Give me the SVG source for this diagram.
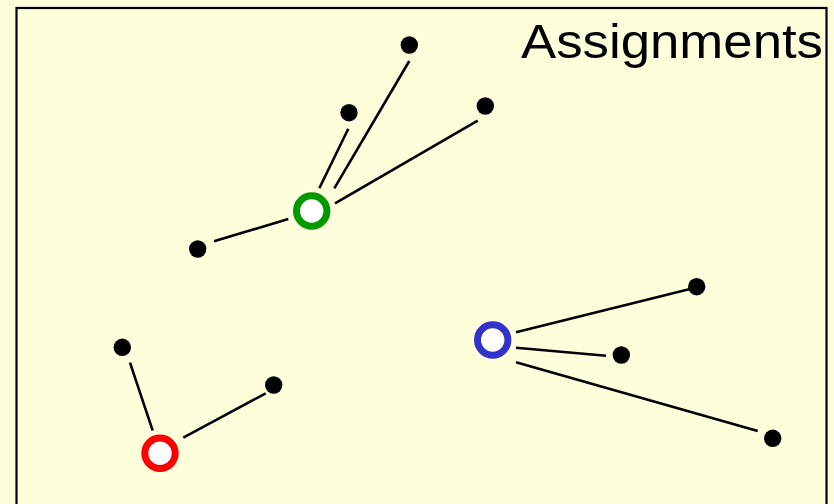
<svg xmlns="http://www.w3.org/2000/svg" width="834" height="504" viewBox="0 0 834 504">
<style>
.bg{fill:#ffffdc}
.frame{fill:#ffffdc;stroke:#000;stroke-width:2.2}
.dot{fill:#000}
.ring{fill:#ffffff;stroke-width:7}
.link{stroke:#000;stroke-width:2.6;stroke-linecap:butt;fill:none}
.title{font-family:"Liberation Sans",Arial,sans-serif;font-size:48px;fill:#000}
</style>
<rect class="bg" x="0" y="0" width="834" height="504"/>
<rect class="frame" x="16.5" y="8" width="810" height="520"/>
<text class="title" x="521" y="57.5" textLength="302" lengthAdjust="spacingAndGlyphs">Assignments</text>
<g id="connectors">
<line class="link" x1="334.3" y1="188.3" x2="409.3" y2="61"/>
<line class="link" x1="319.3" y1="188.3" x2="348.3" y2="128.7"/>
<line class="link" x1="335" y1="203.3" x2="477.7" y2="120.7"/>
<line class="link" x1="288.3" y1="219" x2="214" y2="241.3"/>
<line class="link" x1="130" y1="362.7" x2="152.7" y2="430.7"/>
<line class="link" x1="183.3" y1="437.7" x2="265.7" y2="393.3"/>
<line class="link" x1="516" y1="332.3" x2="690" y2="289"/>
<line class="link" x1="516" y1="347.7" x2="606" y2="355.7"/>
<line class="link" x1="516" y1="362.3" x2="757.7" y2="431"/>
</g>
<g id="center-green"><circle class="ring" cx="311.7" cy="211" r="15.2" stroke="#009900"/></g>
<g id="center-red"><circle class="ring" cx="160" cy="453.3" r="15.2" stroke="#ff0000"/></g>
<g id="center-blue"><circle class="ring" cx="492.7" cy="340" r="15.2" stroke="#3333cc"/></g>
<g id="p1"><circle class="dot" cx="409.3" cy="45" r="8.7"/></g>
<g id="p2"><circle class="dot" cx="349" cy="112.7" r="8.7"/></g>
<g id="p3"><circle class="dot" cx="485.3" cy="106" r="8.7"/></g>
<g id="p4"><circle class="dot" cx="197.7" cy="249" r="8.7"/></g>
<g id="p5"><circle class="dot" cx="122.3" cy="347.3" r="8.7"/></g>
<g id="p6"><circle class="dot" cx="273.7" cy="385" r="8.7"/></g>
<g id="p7"><circle class="dot" cx="696.7" cy="286.7" r="8.7"/></g>
<g id="p8"><circle class="dot" cx="621.3" cy="355" r="8.7"/></g>
<g id="p9"><circle class="dot" cx="772.7" cy="438.3" r="8.7"/></g>
</svg>
